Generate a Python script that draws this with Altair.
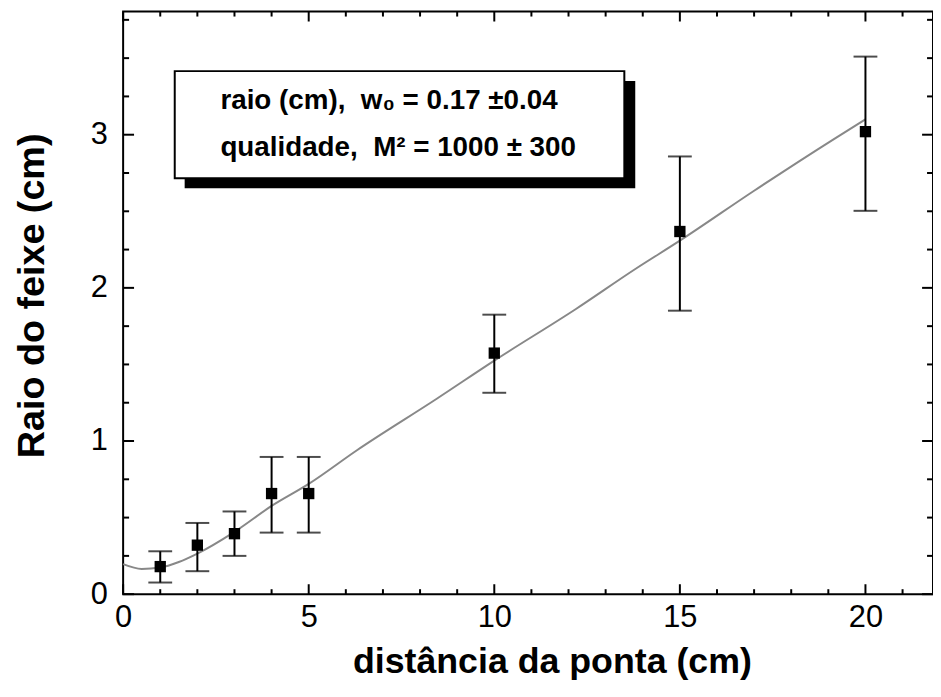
import altair as alt
import pandas as pd

# measured points
dist = [1, 2, 3, 4, 5, 10, 15, 20]
raio = [0.18, 0.32, 0.395, 0.657, 0.657, 1.574, 2.368, 3.02]
err_lo = [0.076, 0.15, 0.25, 0.402, 0.402, 1.315, 1.851, 2.503]
err_hi = [0.28, 0.465, 0.54, 0.896, 0.896, 1.825, 2.858, 3.51]

# fitted curve
fit_x = [0, 0.5, 1, 1.5, 2, 3, 4, 5, 6.3, 8.45, 10, 12.2, 13.8, 15, 17, 19.14, 20]
fit_y = [0.196, 0.165, 0.174, 0.21, 0.265, 0.407, 0.576, 0.72, 0.94, 1.276, 1.525,
         1.862, 2.123, 2.308, 2.634, 2.97, 3.10]

# axis ticks
x_major = [0, 5, 10, 15, 20]
x_minor = [1, 2, 3, 4, 6, 7, 8, 9, 11, 12, 13, 14, 16, 17, 18, 19, 21]
y_major = [0, 1, 2, 3]
y_minor = [0.25, 0.5, 0.75, 1.25, 1.5, 1.75, 2.25, 2.5, 2.75, 3.25, 3.5, 3.75]

x_title = "distância da ponta (cm)"
y_title = "Raio do feixe (cm)"
NB = "\u00a0"
box_lines = ["raio (cm)," + NB + NB + "w₀ = 0.17 ±0.04",
             "qualidade," + NB + NB + "M² = 1000 ± 300"]

W, H = 816, 587
XD = [0, 21.82]
YD = [0, 3.804]

pts = pd.DataFrame({"x": dist, "y": raio, "lo": err_lo, "hi": err_hi})
fit = pd.DataFrame({"x": fit_x, "y": fit_y})

narrow = "Liberation Sans Narrow, Arial Narrow, Liberation Sans, Arial"
bold = "Liberation Sans, Arial, Helvetica"

xs = alt.Scale(domain=XD, nice=False, zero=False)
ys = alt.Scale(domain=YD, nice=False, zero=False)

xaxis = alt.Axis(values=x_major, format="d", ticks=False, tickSize=0, domain=False, grid=False,
                 labelFont=narrow, labelFontSize=31, labelColor="black",
                 labelPadding=9, labelFlush=False,
                 title=x_title, titleFont=bold, titleFontSize=36, titleFontWeight="bold",
                 titleColor="black", titleX=432, titleY=79, titleBaseline="alphabetic",
                 titleAlign="center")
yaxis = alt.Axis(values=y_major, format="d", ticks=False, tickSize=0, domain=False, grid=False,
                 labelFont=narrow, labelFontSize=31, labelColor="black",
                 labelPadding=16, labelFlush=False,
                 title=y_title, titleFont=bold, titleFontSize=38, titleFontWeight="bold",
                 titleColor="black", titleX=-80, titleY=286, titleBaseline="alphabetic",
                 titleAlign="center", titleAngle=270)

curve = alt.Chart(fit).mark_line(color="#888888", strokeWidth=2, interpolate="monotone").encode(
    x=alt.X("x:Q", scale=xs, axis=xaxis),
    y=alt.Y("y:Q", scale=ys, axis=yaxis),
)

bars = alt.Chart(pts).mark_rule(color="black", strokeWidth=2).encode(
    x=alt.X("x:Q", scale=xs), y=alt.Y("lo:Q", scale=ys), y2="hi:Q")
cap_lo = alt.Chart(pts).mark_tick(color="black", orient="horizontal", size=24, thickness=2).encode(
    x=alt.X("x:Q", scale=xs), y=alt.Y("lo:Q", scale=ys))
cap_hi = alt.Chart(pts).mark_tick(color="black", orient="horizontal", size=24, thickness=2).encode(
    x=alt.X("x:Q", scale=xs), y=alt.Y("hi:Q", scale=ys))
squares = alt.Chart(pts).mark_point(shape="square", filled=True, color="black", size=130, opacity=1).encode(
    x=alt.X("x:Q", scale=xs), y=alt.Y("y:Q", scale=ys))

def xticks(vals, length):
    df = pd.DataFrame({"t": vals})
    b = alt.Chart(df).mark_rule(color="black", strokeWidth=2).encode(
        x=alt.X("t:Q", scale=xs), y=alt.value(H), y2=alt.value(H - length))
    t = alt.Chart(df).mark_rule(color="black", strokeWidth=2).encode(
        x=alt.X("t:Q", scale=xs), y=alt.value(0), y2=alt.value(length))
    return [b, t]

def yticks(vals, length):
    df = pd.DataFrame({"t": vals})
    l = alt.Chart(df).mark_rule(color="black", strokeWidth=2).encode(
        y=alt.Y("t:Q", scale=ys), x=alt.value(0), x2=alt.value(length))
    r = alt.Chart(df).mark_rule(color="black", strokeWidth=2).encode(
        y=alt.Y("t:Q", scale=ys), x=alt.value(W), x2=alt.value(W - length))
    return [l, r]

tick_layers = xticks(x_major, 10) + xticks(x_minor, 5) + yticks(y_major, 11) + yticks(y_minor, 6)

one = alt.Data(values=[{}])
shadow = alt.Chart(one).mark_rect(color="black").encode(
    x=alt.value(62), x2=alt.value(516), y=alt.value(70), y2=alt.value(178))
box = alt.Chart(one).mark_rect(fill="white", stroke="black", strokeWidth=2).encode(
    x=alt.value(52), x2=alt.value(505), y=alt.value(60), y2=alt.value(168))
txt1 = alt.Chart(one).mark_text(text=box_lines[0], font=bold, fontWeight="bold", fontSize=28,
                                align="left", baseline="alphabetic", color="black").encode(
    x=alt.value(98), y=alt.value(98))
txt2 = alt.Chart(one).mark_text(text=box_lines[1], font=bold, fontWeight="bold", fontSize=28,
                                align="left", baseline="alphabetic", color="black").encode(
    x=alt.value(98), y=alt.value(146))

chart = alt.layer(curve, bars, cap_lo, cap_hi, squares, *tick_layers, shadow, box, txt1, txt2).properties(
    width=W, height=H, autosize="none",
    padding={"left": 116, "top": 1, "right": 0, "bottom": 100},
    background="white",
).configure_view(stroke="black", strokeWidth=2)

chart.save("out.html", embed_options={"renderer": "svg", "actions": False})
